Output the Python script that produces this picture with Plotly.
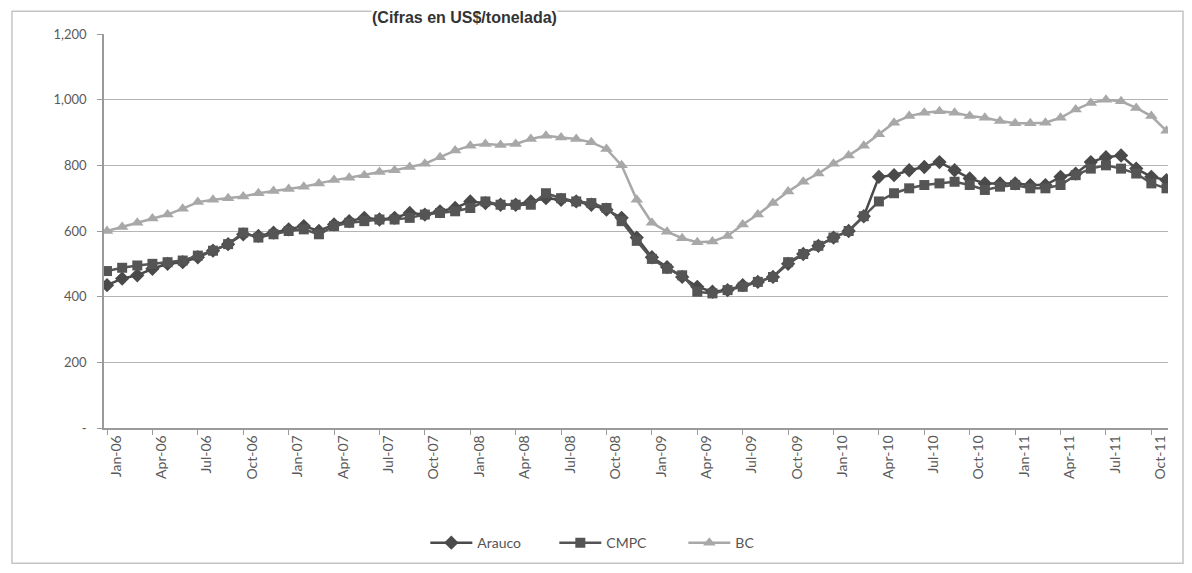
import plotly.graph_objects as go

months = [f"{m}-{y:02d}" for y in range(6, 12) for m in
          ["Jan", "Feb", "Mar", "Apr", "May", "Jun", "Jul", "Aug", "Sep", "Oct", "Nov", "Dec"]][:71]

arauco = [435, 455, 465, 485, 500, 505, 520, 540, 560, 590, 585, 595,
          605, 615, 600, 620, 630, 640, 635, 640, 655, 650, 660, 670,
          690, 685, 680, 680, 690, 700, 695, 690, 680, 665, 640, 580,
          520, 490, 460, 430, 415, 420, 435, 445, 460, 500, 530, 555,
          580, 600, 645, 765, 770, 785, 795, 810, 785, 760, 745, 745,
          745, 740, 740, 765, 775, 810, 825, 830, 790, 765, 755]

cmpc = [478, 488, 495, 500, 505, 510, 525, 540, 560, 595, 580, 590,
        600, 605, 590, 615, 625, 630, 635, 635, 640, 650, 655, 660,
        670, 690, 680, 680, 680, 715, 700, 690, 685, 670, 630, 570,
        515, 485, 465, 415, 410, 420, 430, 445, 460, 505, 530, 555,
        580, 600, 645, 690, 715, 730, 740, 745, 750, 740, 725, 735,
        740, 730, 730, 740, 770, 790, 800, 790, 775, 745, 730]

bc = [600, 612, 625, 638, 650, 668, 688, 695, 700, 705, 715, 722,
      728, 735, 745, 755, 762, 770, 780, 785, 795, 805, 825, 845,
      860, 865, 862, 865, 880, 890, 885, 880, 870, 850, 800, 695,
      625, 598, 578, 566, 568, 585, 620, 650, 685, 720, 750, 775,
      805, 830, 860, 895, 930, 950, 960, 965, 960, 950, 945, 935,
      928, 928, 930, 945, 970, 990, 1000, 995, 975, 950, 905]

ytick_vals = [0, 200, 400, 600, 800, 1000, 1200]
ytick_text = ["-", "200", "400", "600", "800", "1,000", "1,200"]

x = list(range(len(months)))
label_idx = list(range(0, len(months), 3))

fig = go.Figure()
fig.add_trace(go.Scatter(x=x, y=arauco, name="Arauco", mode="lines+markers",
                         line=dict(color="#4a4a4a", width=2.5),
                         marker=dict(symbol="diamond", size=11, color="#4a4a4a")))
fig.add_trace(go.Scatter(x=x, y=cmpc, name="CMPC", mode="lines+markers",
                         line=dict(color="#555555", width=2.5),
                         marker=dict(symbol="square", size=10, color="#555555")))
fig.add_trace(go.Scatter(x=x, y=bc, name="BC", mode="lines+markers",
                         line=dict(color="#a8a8a8", width=2.5),
                         marker=dict(symbol="triangle-up", size=11, color="#a8a8a8")))

fig.update_layout(
    width=1176, height=557,
    margin=dict(l=96, r=16, t=26, b=137, autoexpand=False),
    paper_bgcolor="white", plot_bgcolor="white",
    font=dict(family="Lato, Open Sans, sans-serif", size=13, color="#555555"),
    showlegend=True,
    legend=dict(orientation="h", x=0.302, xanchor="left", y=-0.292, yanchor="middle",
                font=dict(size=14, color="#555555"), itemwidth=42,
                entrywidth=72, entrywidthmode="pixels",
                bgcolor="rgba(0,0,0,0)"),
    xaxis=dict(range=[-0.2, 70.1], tickmode="array",
               tickvals=[i + 0.6 for i in label_idx],
               ticktext=[months[i] for i in label_idx],
               tickangle=-90, ticks="", showgrid=False, zeroline=False,
               showline=True, linecolor="#9a9a9a", linewidth=1.5,
               tickfont=dict(size=14, color="#5a5a5a"),
               minor=dict(tickmode="array", tickvals=label_idx, ticks="outside",
                          ticklen=5, tickcolor="#9a9a9a", showgrid=False)),
    yaxis=dict(range=[0, 1200], tickmode="array", tickvals=ytick_vals, ticktext=ytick_text,
               showgrid=True, gridcolor="#b4b4b4", gridwidth=1.2, zeroline=False,
               showline=True, linecolor="#9a9a9a", linewidth=1.5,
               ticks="outside", ticklen=5, tickcolor="#9a9a9a",
               ticklabelstandoff=8,
               tickfont=dict(size=13, color="#5a5a5a")),
)

fig.add_shape(type="rect", xref="paper", yref="paper",
              x0=-0.0865, x1=1.0141, y0=-0.343, y1=1.058,
              line=dict(color="#c4c4c4", width=1.5), fillcolor="rgba(0,0,0,0)", layer="below")

fig.add_annotation(text="<b>(Cifras en US$/tonelada)</b>", xref="paper", yref="paper",
                   x=0.339, y=1.066, xanchor="center", yanchor="top", showarrow=False,
                   font=dict(family="Liberation Sans, Arial, sans-serif", size=16, color="#333333"),
                   bgcolor="white", borderpad=0)

fig.write_html("out.html")
